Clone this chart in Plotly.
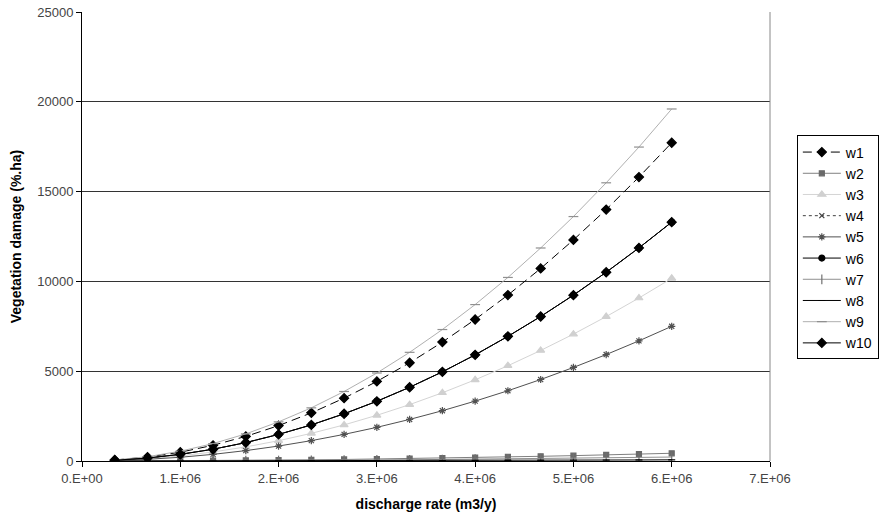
import plotly.graph_objects as go

discharge = [k * 1e6 / 3 for k in range(1, 19)]

w1 = [55, 220, 490, 875, 1370, 1970, 2680, 3500, 4430, 5470, 6620, 7880, 9240, 10720, 12310, 14000, 15810, 17720]
w2 = [1, 5, 12, 21, 33, 48, 65, 85, 108, 133, 161, 192, 225, 261, 299, 340, 384, 430]
w3 = [31, 125, 283, 502, 785, 1130, 1540, 2010, 2545, 3140, 3800, 4520, 5305, 6155, 7065, 8040, 9075, 10170]
w4 = [41, 165, 370, 655, 1025, 1480, 2010, 2630, 3325, 4105, 4965, 5910, 6940, 8045, 9235, 10510, 11865, 13300]
w5 = [23, 93, 208, 370, 579, 833, 1134, 1482, 1875, 2315, 2800, 3334, 3912, 4537, 5209, 5926, 6690, 7500]
w6 = [41, 165, 370, 655, 1025, 1480, 2010, 2630, 3325, 4105, 4965, 5910, 6940, 8045, 9235, 10510, 11865, 13300]
w7 = [1, 3, 6, 11, 17, 24, 33, 44, 55, 68, 82, 98, 115, 133, 153, 174, 197, 220]
w8 = [0, 1, 2, 3, 5, 7, 10, 13, 16, 20, 24, 29, 34, 39, 45, 51, 58, 65]
w9 = [60, 240, 545, 970, 1510, 2180, 2960, 3870, 4900, 6050, 7320, 8710, 10220, 11860, 13610, 15490, 17480, 19600]
w10 = [41, 165, 370, 655, 1025, 1480, 2010, 2630, 3325, 4105, 4965, 5910, 6940, 8045, 9235, 10510, 11865, 13300]

x_tickvals = [0, 1e6, 2e6, 3e6, 4e6, 5e6, 6e6, 7e6]
x_ticktext = ["0.E+00", "1.E+06", "2.E+06", "3.E+06", "4.E+06", "5.E+06", "6.E+06", "7.E+06"]
y_tickvals = [0, 5000, 10000, 15000, 20000, 25000]
y_ticktext = ["0", "5000", "10000", "15000", "20000", "25000"]

series = [
    ("w1", w1, "#000000", "9px,5px", "diamond", 7, "#000000"),
    ("w2", w2, "#808080", "solid", "square", 5, "#6a6a6a"),
    ("w3", w3, "#d4d4d4", "solid", "triangle-up", 7, "#d0d0d0"),
    ("w4", w4, "#404040", "dot", "x-thin-open", 5, "#404040"),
    ("w5", w5, "#505050", "solid", "asterisk-open", 6, "#505050"),
    ("w6", w6, "#000000", "solid", "circle", 6, "#000000"),
    ("w7", w7, "#909090", "solid", "line-ns-open", 7, "#707070"),
    ("w8", w8, "#000000", "solid", "line-ew-open", 5, "#000000"),
    ("w9", w9, "#b0b0b0", "solid", "line-ew-open", 7, "#909090"),
    ("w10", w10, "#000000", "solid", "diamond", 7, "#000000"),
]

fig = go.Figure()
for name, ys, col, dash, sym, size, mcol in series:
    fig.add_trace(go.Scatter(
        x=discharge, y=ys, name=name, mode="lines+markers",
        line=dict(color=col, width=1, dash=dash),
        marker=dict(symbol=sym, size=size, color=mcol, line=dict(color=mcol, width=1.2)),
    ))

font_family = "Arial, Liberation Sans, sans-serif"
fig.update_layout(
    width=880, height=521,
    margin=dict(l=82, r=110, t=12, b=60, autoexpand=False),
    paper_bgcolor="white", plot_bgcolor="white",
    font=dict(family=font_family, color="#333333", size=13),
    showlegend=True,
    legend=dict(
        x=1.039, y=0.725, xanchor="left", yanchor="top",
        bordercolor="#000000", borderwidth=1, bgcolor="white",
        font=dict(size=14, color="#000000", family=font_family),
        tracegroupgap=0, itemwidth=38,
    ),
    xaxis=dict(
        range=[0, 7e6], tickvals=x_tickvals, ticktext=x_ticktext,
        showgrid=False, zeroline=False,
        showline=True, linecolor="#000000", linewidth=1,
        ticks="outside", ticklen=5, tickcolor="#000000",
        tickfont=dict(size=13, color="#444444"),
        title=dict(text="<b>discharge rate (m3/y)</b>", font=dict(size=14, color="#000000"), standoff=14),
    ),
    yaxis=dict(
        range=[0, 25000], tickvals=y_tickvals, ticktext=y_ticktext,
        showgrid=True, gridcolor="#333333", gridwidth=1,
        zeroline=False,
        showline=True, linecolor="#000000", linewidth=1,
        ticks="outside", ticklen=5, tickcolor="#000000",
        tickfont=dict(size=13, color="#444444"),
        title=dict(text="<b>Vegetation damage (%.ha)</b>", font=dict(size=14, color="#000000"), standoff=12),
    ),
)

# right border of the plot area
fig.add_shape(type="line", xref="paper", yref="paper", x0=1, x1=1, y0=0, y1=1,
              line=dict(color="#888888", width=1))

fig.write_html("out.html")
